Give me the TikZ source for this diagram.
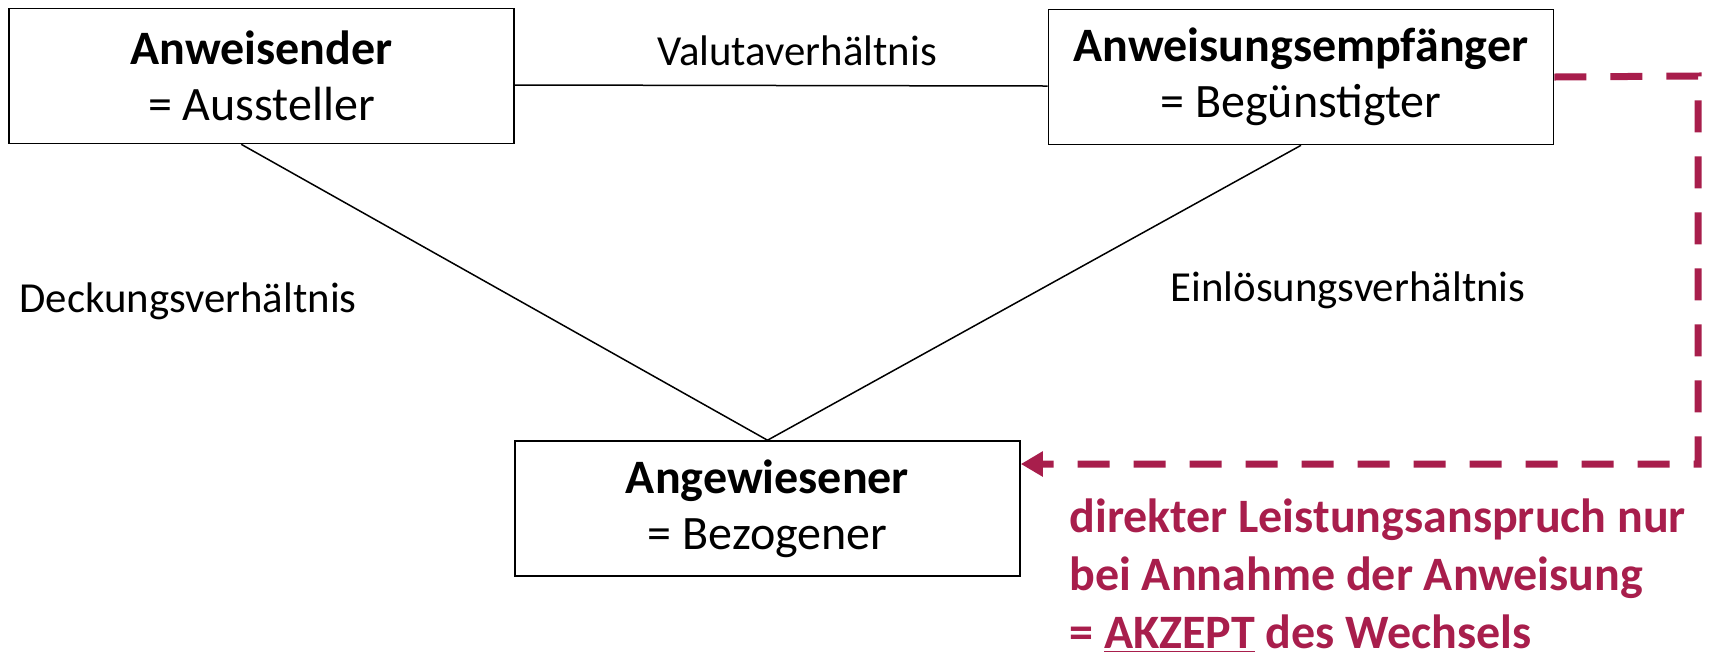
\documentclass[tikz,border=0pt]{standalone}
\usepackage{fontspec}
\setmainfont{Carlito}
\usetikzlibrary{arrows.meta,calc}
\definecolor{akzeptrot}{RGB}{168,30,76}
\tikzset{
	party/.style={draw, line width=0.8pt, minimum width=252.5pt, minimum height=67.5pt, inner sep=0pt, align=center, font=\fontsize{24}{28}\selectfont},
	rel/.style={font=\fontsize{21.4}{26}\selectfont},
	link/.style={line width=0.75pt},
	claim/.style={draw=akzeptrot, line width=3.5pt, dash pattern=on 16pt off 12pt, -{Triangle[length=11pt,width=12pt]}},
	claimtext/.style={text=akzeptrot, align=left, anchor=west, inner sep=0pt, font=\fontsize{24}{29}\selectfont\bfseries}
}

\begin{document}
\begin{tikzpicture}[x=0.5pt, y=-0.5pt]
	\useasboundingbox (0,0) rectangle (1711,655);
	% parties
	\node [party] (aus) at (261.5, 76) {\textbf{Anweisender}\\= Aussteller};
	\node [party] (beg) at (1301, 77) {\textbf{Anweisungsempfänger}\\= Begünstigter};
	\node [party] (bez) at (767.5, 508.5) {\textbf{Angewiesener}\\= Bezogener};
	% relations
	\node [rel] (valuta) at (797, 51) {Valutaverhältnis};
	\node [rel] (deckung) at (188, 301) {Deckungsverhältnis};
	\node [rel] (einloes) at (1348, 290) {Einlösungsverhältnis};
	\node [claimtext] (akzept) at (1069, 576) {direkter Leistungsanspruch nur\\bei Annahme der Anweisung\\= \underline{AKZEPT} des Wechsels};
	\coordinate (eck1) at (1698, 76);
	\coordinate (eck2) at (1698, 464);

	\draw [link] ([yshift=-4.5pt]aus.east) to ([yshift=-4.5pt]beg.west);
	\draw [link] ($(aus.south west)!0.46!(aus.south east)$) to (bez.north);
	\draw [link] (beg.south) to (bez.north);
	\draw [claim] (beg.east) -- (eck1) -- (eck2) -- (bez.east |- eck2);
\end{tikzpicture}
\end{document}
